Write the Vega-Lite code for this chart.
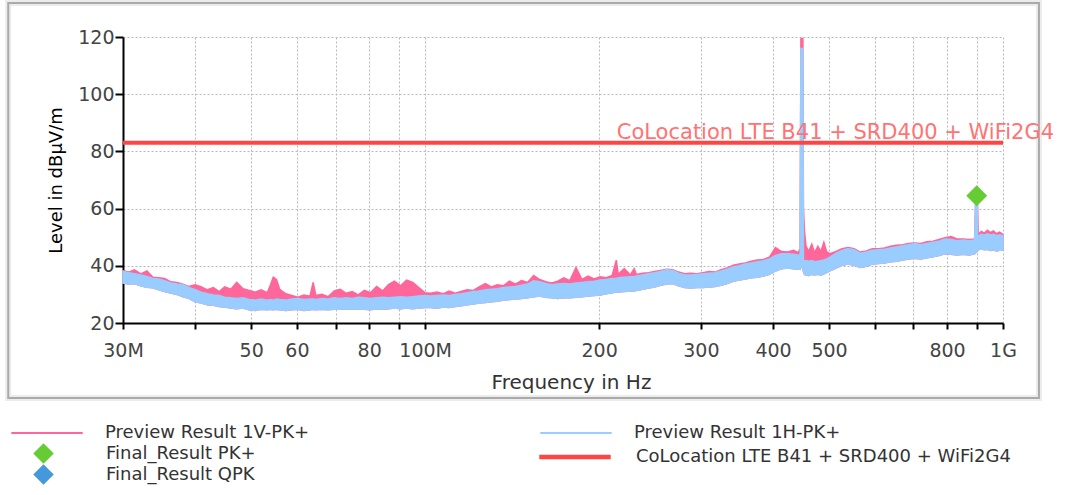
{
  "$schema": "https://vega.github.io/schema/vega-lite/v6.json",
  "autosize": {"type": "none"},
  "padding": {"left": 123, "top": 37, "right": 76, "bottom": 172},
  "width": 880,
  "height": 286,
  "background": "#ffffff",
  "data": {"values": [
    {"f":30,"blo":34.0,"bhi":38.0,"phi":38.3},
    {"f":30.7,"blo":33.6,"bhi":37.6,"phi":37.8},
    {"f":31.4,"blo":33.8,"bhi":37.2,"phi":38.6},
    {"f":32.2,"blo":33.0,"bhi":36.8,"phi":37.2},
    {"f":33,"blo":32.5,"bhi":36.3,"phi":38.2},
    {"f":33.8,"blo":32.3,"bhi":35.6,"phi":36.0},
    {"f":34.6,"blo":31.6,"bhi":35.4,"phi":35.8},
    {"f":35.4,"blo":31.0,"bhi":34.8,"phi":35.6},
    {"f":36.3,"blo":30.5,"bhi":34.0,"phi":34.4},
    {"f":37.2,"blo":30.0,"bhi":33.6,"phi":34.2},
    {"f":38.1,"blo":29.2,"bhi":33.4,"phi":33.6},
    {"f":39,"blo":28.6,"bhi":32.4,"phi":32.8},
    {"f":40,"blo":27.4,"bhi":31.6,"phi":33.4},
    {"f":41,"blo":27.0,"bhi":30.8,"phi":32.6},
    {"f":42,"blo":26.4,"bhi":30.2,"phi":31.6},
    {"f":43,"blo":26.2,"bhi":29.8,"phi":32.4},
    {"f":44,"blo":25.8,"bhi":29.6,"phi":31.0},
    {"f":45,"blo":25.6,"bhi":29.0,"phi":32.6},
    {"f":46.1,"blo":25.2,"bhi":28.8,"phi":31.8},
    {"f":47.2,"blo":25.0,"bhi":28.6,"phi":34.2},
    {"f":48.4,"blo":25.2,"bhi":28.8,"phi":32.0},
    {"f":49.6,"blo":24.6,"bhi":28.2,"phi":31.4},
    {"f":50.8,"blo":24.4,"bhi":28.0,"phi":30.8},
    {"f":52,"blo":24.8,"bhi":28.4,"phi":31.6},
    {"f":53.3,"blo":24.6,"bhi":28.0,"phi":30.6},
    {"f":54,"blo":24.8,"bhi":28.2,"phi":33.4},
    {"f":54.6,"blo":24.6,"bhi":28.0,"phi":36.0},
    {"f":55.3,"blo":24.8,"bhi":28.4,"phi":35.2},
    {"f":56,"blo":24.6,"bhi":28.2,"phi":31.8},
    {"f":57.4,"blo":24.4,"bhi":28.0,"phi":30.2},
    {"f":58.8,"blo":24.6,"bhi":28.4,"phi":29.6},
    {"f":60.2,"blo":24.8,"bhi":28.6,"phi":29.0},
    {"f":61.7,"blo":24.4,"bhi":28.2,"phi":29.8},
    {"f":63.2,"blo":24.6,"bhi":28.4,"phi":29.4},
    {"f":64,"blo":24.8,"bhi":28.4,"phi":34.2},
    {"f":64.7,"blo":24.6,"bhi":28.2,"phi":29.6},
    {"f":66.3,"blo":24.8,"bhi":28.6,"phi":30.0},
    {"f":67.9,"blo":24.6,"bhi":28.4,"phi":29.2},
    {"f":69.6,"blo":24.8,"bhi":28.8,"phi":31.2},
    {"f":71.3,"blo":24.8,"bhi":28.6,"phi":31.8},
    {"f":73,"blo":25.0,"bhi":28.8,"phi":30.4},
    {"f":74.8,"blo":24.8,"bhi":28.6,"phi":31.0},
    {"f":76.6,"blo":25.0,"bhi":29.0,"phi":29.8},
    {"f":78.5,"blo":24.8,"bhi":28.8,"phi":31.4},
    {"f":80.4,"blo":24.6,"bhi":28.6,"phi":30.6},
    {"f":82.4,"blo":25.0,"bhi":28.8,"phi":32.8},
    {"f":84.4,"blo":24.8,"bhi":29.0,"phi":31.2},
    {"f":86.4,"blo":25.0,"bhi":28.8,"phi":33.4},
    {"f":88.5,"blo":25.2,"bhi":29.0,"phi":34.6},
    {"f":90.7,"blo":25.0,"bhi":29.2,"phi":33.0},
    {"f":92.9,"blo":25.2,"bhi":29.0,"phi":35.0},
    {"f":95.2,"blo":25.0,"bhi":29.2,"phi":34.2},
    {"f":97.5,"blo":25.2,"bhi":29.4,"phi":32.4},
    {"f":99.9,"blo":25.4,"bhi":29.6,"phi":30.6},
    {"f":102.3,"blo":25.4,"bhi":29.4,"phi":30.4},
    {"f":104.8,"blo":25.2,"bhi":29.6,"phi":30.8},
    {"f":107.4,"blo":25.6,"bhi":29.8,"phi":30.2},
    {"f":110,"blo":25.4,"bhi":29.6,"phi":31.2},
    {"f":112.7,"blo":25.8,"bhi":30.0,"phi":30.4},
    {"f":115.4,"blo":26.0,"bhi":30.2,"phi":31.0},
    {"f":118.2,"blo":26.4,"bhi":30.6,"phi":31.6},
    {"f":121.1,"blo":26.6,"bhi":31.0,"phi":31.4},
    {"f":124,"blo":27.0,"bhi":31.2,"phi":32.6},
    {"f":127.1,"blo":27.2,"bhi":31.6,"phi":33.8},
    {"f":130.2,"blo":27.4,"bhi":31.8,"phi":32.6},
    {"f":133.3,"blo":27.6,"bhi":32.0,"phi":33.4},
    {"f":136.6,"blo":28.0,"bhi":32.4,"phi":33.0},
    {"f":139.9,"blo":28.2,"bhi":32.6,"phi":34.6},
    {"f":143.3,"blo":28.4,"bhi":32.8,"phi":33.6},
    {"f":146.8,"blo":28.6,"bhi":33.2,"phi":34.8},
    {"f":150.4,"blo":28.8,"bhi":33.6,"phi":34.2},
    {"f":154.1,"blo":29.2,"bhi":34.8,"phi":36.6},
    {"f":157.8,"blo":29.4,"bhi":34.4,"phi":35.2},
    {"f":161.7,"blo":29.0,"bhi":33.8,"phi":34.4},
    {"f":165.6,"blo":28.8,"bhi":33.4,"phi":34.0},
    {"f":169.6,"blo":28.6,"bhi":33.6,"phi":34.6},
    {"f":173.8,"blo":28.8,"bhi":33.8,"phi":35.8},
    {"f":178,"blo":28.8,"bhi":33.6,"phi":34.8},
    {"f":182.4,"blo":29.0,"bhi":34.0,"phi":39.4},
    {"f":186.8,"blo":29.2,"bhi":34.2,"phi":35.2},
    {"f":191.4,"blo":29.4,"bhi":34.4,"phi":36.4},
    {"f":196,"blo":29.6,"bhi":34.6,"phi":35.4},
    {"f":200.8,"blo":29.8,"bhi":35.0,"phi":36.2},
    {"f":205.7,"blo":30.2,"bhi":35.2,"phi":35.8},
    {"f":210.7,"blo":30.6,"bhi":35.6,"phi":36.6},
    {"f":214.2,"blo":30.8,"bhi":35.6,"phi":42.0},
    {"f":215.8,"blo":30.8,"bhi":35.8,"phi":37.0},
    {"f":221.1,"blo":31.0,"bhi":36.0,"phi":39.0},
    {"f":226.5,"blo":31.2,"bhi":36.2,"phi":36.8},
    {"f":230,"blo":31.2,"bhi":36.2,"phi":39.0},
    {"f":232,"blo":31.4,"bhi":36.4,"phi":37.0},
    {"f":237.7,"blo":31.8,"bhi":36.8,"phi":37.4},
    {"f":243.5,"blo":32.2,"bhi":37.2,"phi":37.6},
    {"f":249.4,"blo":32.6,"bhi":37.6,"phi":38.0},
    {"f":255.5,"blo":33.2,"bhi":38.0,"phi":38.4},
    {"f":261.7,"blo":33.6,"bhi":38.6,"phi":38.8},
    {"f":268.1,"blo":33.8,"bhi":38.4,"phi":38.6},
    {"f":274.6,"blo":33.0,"bhi":37.4,"phi":37.8},
    {"f":281.3,"blo":32.4,"bhi":36.8,"phi":37.2},
    {"f":288.2,"blo":32.2,"bhi":36.8,"phi":37.4},
    {"f":295.2,"blo":32.4,"bhi":37.0,"phi":37.2},
    {"f":302.4,"blo":32.4,"bhi":37.2,"phi":37.6},
    {"f":309.8,"blo":32.6,"bhi":37.4,"phi":38.0},
    {"f":317.3,"blo":32.8,"bhi":37.6,"phi":37.8},
    {"f":325.1,"blo":33.2,"bhi":38.2,"phi":38.6},
    {"f":333,"blo":33.8,"bhi":38.8,"phi":39.2},
    {"f":341.1,"blo":34.6,"bhi":39.6,"phi":40.2},
    {"f":349.5,"blo":35.0,"bhi":40.0,"phi":40.6},
    {"f":358,"blo":35.4,"bhi":40.6,"phi":41.0},
    {"f":366.7,"blo":35.8,"bhi":41.0,"phi":41.6},
    {"f":375.7,"blo":36.0,"bhi":41.4,"phi":42.0},
    {"f":384.8,"blo":36.4,"bhi":41.8,"phi":42.2},
    {"f":394.2,"blo":37.0,"bhi":42.4,"phi":43.0},
    {"f":403.9,"blo":38.2,"bhi":43.6,"phi":46.4},
    {"f":413.7,"blo":39.0,"bhi":44.2,"phi":45.0},
    {"f":423.8,"blo":39.2,"bhi":44.2,"phi":44.8},
    {"f":434.2,"blo":39.0,"bhi":44.0,"phi":45.4},
    {"f":442,"blo":38.8,"bhi":43.8,"phi":44.6},
    {"f":445.5,"blo":38.8,"bhi":43.6,"phi":46.0},
    {"f":447,"blo":39.5,"bhi":116.0,"phi":119.5},
    {"f":450.5,"blo":39.5,"bhi":116.0,"phi":119.5},
    {"f":451.5,"blo":38.0,"bhi":42.0,"phi":60.0},
    {"f":453.5,"blo":37.0,"bhi":41.6,"phi":52.0},
    {"f":456,"blo":36.8,"bhi":41.8,"phi":47.0},
    {"f":461,"blo":36.6,"bhi":41.6,"phi":45.0},
    {"f":466.8,"blo":37.0,"bhi":41.8,"phi":47.6},
    {"f":472,"blo":36.8,"bhi":41.4,"phi":44.6},
    {"f":478.2,"blo":37.0,"bhi":41.6,"phi":46.8},
    {"f":484,"blo":36.8,"bhi":41.8,"phi":45.0},
    {"f":489.8,"blo":37.2,"bhi":42.0,"phi":48.2},
    {"f":495,"blo":37.6,"bhi":42.4,"phi":45.0},
    {"f":501.8,"blo":38.2,"bhi":43.0,"phi":44.2},
    {"f":514,"blo":39.2,"bhi":44.4,"phi":45.0},
    {"f":526.6,"blo":40.2,"bhi":45.4,"phi":46.0},
    {"f":539.5,"blo":40.6,"bhi":46.0,"phi":46.4},
    {"f":552.6,"blo":40.2,"bhi":45.6,"phi":46.0},
    {"f":566.1,"blo":39.4,"bhi":44.4,"phi":44.8},
    {"f":580,"blo":39.8,"bhi":44.8,"phi":45.2},
    {"f":594.1,"blo":40.6,"bhi":45.4,"phi":46.0},
    {"f":608.6,"blo":40.8,"bhi":45.6,"phi":46.0},
    {"f":623.5,"blo":41.0,"bhi":45.8,"phi":46.2},
    {"f":638.7,"blo":41.4,"bhi":46.2,"phi":46.8},
    {"f":654.3,"blo":41.6,"bhi":46.6,"phi":47.2},
    {"f":670.3,"blo":42.0,"bhi":47.0,"phi":47.4},
    {"f":686.7,"blo":42.4,"bhi":47.4,"phi":47.8},
    {"f":703.4,"blo":42.6,"bhi":47.8,"phi":48.0},
    {"f":720.6,"blo":42.4,"bhi":47.4,"phi":47.8},
    {"f":738.2,"blo":42.8,"bhi":47.8,"phi":48.4},
    {"f":756.2,"blo":43.2,"bhi":48.2,"phi":48.6},
    {"f":774.7,"blo":43.6,"bhi":48.6,"phi":49.2},
    {"f":793.6,"blo":44.2,"bhi":49.4,"phi":49.8},
    {"f":813,"blo":44.0,"bhi":49.2,"phi":50.2},
    {"f":832.8,"blo":43.8,"bhi":48.8,"phi":49.4},
    {"f":853.1,"blo":44.0,"bhi":49.0,"phi":49.4},
    {"f":874,"blo":43.8,"bhi":48.8,"phi":49.2},
    {"f":893,"blo":44.2,"bhi":49.0,"phi":49.4},
    {"f":897,"blo":44.6,"bhi":64.0,"phi":64.0},
    {"f":902,"blo":45.0,"bhi":64.0,"phi":64.0},
    {"f":903.5,"blo":45.2,"bhi":50.2,"phi":62.0},
    {"f":906,"blo":45.6,"bhi":50.4,"phi":51.0},
    {"f":917.2,"blo":46.0,"bhi":51.0,"phi":52.0},
    {"f":928,"blo":45.6,"bhi":50.8,"phi":51.4},
    {"f":939.6,"blo":45.8,"bhi":51.2,"phi":52.4},
    {"f":951,"blo":45.4,"bhi":50.8,"phi":51.6},
    {"f":962.5,"blo":45.6,"bhi":51.0,"phi":52.2},
    {"f":974,"blo":45.2,"bhi":50.6,"phi":51.2},
    {"f":986,"blo":45.4,"bhi":50.8,"phi":51.8},
    {"f":1000,"blo":45.4,"bhi":50.6,"phi":51.0}
  ]},
  "layer": [
    {
      "data": {"values": [{"frame": "outer"}]},
      "mark": {"type": "rect", "fill": "transparent", "stroke": "#ececec", "strokeWidth": 6},
      "encoding": {
        "x": {"datum": 18.99, "type": "quantitative"},
        "x2": {"datum": 1154},
        "y": {"datum": 131.9, "type": "quantitative"},
        "y2": {"datum": -6.2}
      }
    },
    {
      "data": {"values": [{"frame": "inner"}]},
      "mark": {"type": "rect", "fill": "transparent", "stroke": "#aaaaaa", "strokeWidth": 2},
      "encoding": {
        "x": {"datum": 18.99, "type": "quantitative"},
        "x2": {"datum": 1154},
        "y": {"datum": 131.9, "type": "quantitative"},
        "y2": {"datum": -6.2}
      }
    },
    {
      "mark": {"type": "area", "fill": "#ff6699", "strokeWidth": 1.5, "opacity": 1},
      "encoding": {
        "x": {
          "field": "f", "type": "quantitative",
          "scale": {"type": "log", "domain": [30, 1000], "nice": false},
          "axis": {
            "values": [30,40,50,60,70,80,90,100,200,300,400,500,600,700,800,900,1000],
            "labelExpr": "datum.value == 30 ? '30M' : datum.value == 100 ? '100M' : datum.value == 1000 ? '1G' : indexof([50,60,80,200,300,400,500,800], datum.value) >= 0 ? '' + datum.value : ''",
            "grid": true,
            "tickSize": 6,
            "labelPadding": 12,
            "title": "Frequency in Hz",
            "titleFontSize": 20,
            "titleColor": "#333333",
            "titlePadding": 12,
            "titleX": 448
          }
        },
        "y": {
          "field": "blo", "type": "quantitative",
          "scale": {"domain": [20, 120], "nice": false, "zero": false},
          "axis": {
            "values": [20,30,40,50,60,70,80,90,100,110,120],
            "labelExpr": "datum.value % 20 == 0 ? '' + datum.value : ''",
            "grid": true,
            "tickSize": 8,
            "labelPadding": 1,
            "title": "Level in dBµV/m",
            "titleFontSize": 18,
            "titleColor": "#000000",
            "titlePadding": 12
          }
        },
        "y2": {"field": "phi"},
        "stroke": {
          "datum": "Preview Result 1V-PK+",
          "scale": {
            "domain": ["Preview Result 1V-PK+", "Preview Result 1H-PK+"],
            "range": ["#ff6699", "#99ccff"]
          },
          "legend": {
            "title": null,
            "orient": "none",
            "legendX": -113,
            "legendY": 359,
            "columns": 2,
            "columnPadding": 226,
            "padding": 0,
            "symbolType": "stroke",
            "symbolSize": 5100,
            "symbolStrokeWidth": 2,
            "labelOffset": 21,
            "labelFontSize": 18,
            "labelColor": "#333333",
            "labelFont": "DejaVu Sans",
            "labelLimit": 600
          }
        }
      }
    },
    {
      "mark": {"type": "area", "fill": "#99ccff", "strokeWidth": 1.5, "opacity": 1},
      "encoding": {
        "x": {"field": "f", "type": "quantitative"},
        "y": {"field": "blo", "type": "quantitative"},
        "y2": {"field": "bhi"},
        "stroke": {"datum": "Preview Result 1H-PK+"}
      }
    },
    {
      "data": {"values": [{"f": 30, "lim": 83}, {"f": 1000, "lim": 83}]},
      "mark": {"type": "line", "strokeWidth": 4},
      "encoding": {
        "x": {"field": "f", "type": "quantitative"},
        "y": {"field": "lim", "type": "quantitative"},
        "color": {
          "datum": "CoLocation LTE B41 + SRD400 + WiFi2G4",
          "scale": {"domain": ["CoLocation LTE B41 + SRD400 + WiFi2G4"], "range": ["#ff4444"]},
          "legend": {
            "title": null,
            "orient": "none",
            "legendX": 414,
            "legendY": 382,
            "padding": 0,
            "symbolType": "stroke",
            "symbolSize": 5100,
            "symbolStrokeWidth": 4.5,
            "labelOffset": 23,
            "labelFontSize": 18,
            "labelColor": "#333333",
            "labelFont": "DejaVu Sans",
            "labelLimit": 600
          }
        }
      }
    },
    {
      "data": {"values": [{"f": 214.6, "lim": 83, "label": "CoLocation LTE B41 + SRD400 + WiFi2G4"}]},
      "mark": {"type": "text", "align": "left", "baseline": "alphabetic", "dy": -4, "fontSize": 21, "font": "DejaVu Sans", "color": "#ff7373"},
      "encoding": {
        "x": {"field": "f", "type": "quantitative"},
        "y": {"field": "lim", "type": "quantitative"},
        "text": {"field": "label"}
      }
    },
    {
      "data": {"values": [{"f": 900.6, "level": 64.5}]},
      "mark": {"type": "point", "shape": "diamond", "filled": true, "size": 440, "opacity": 1, "strokeWidth": 0},
      "encoding": {
        "x": {"field": "f", "type": "quantitative"},
        "y": {"field": "level", "type": "quantitative"},
        "fill": {
          "datum": "Final_Result PK+",
          "scale": {"domain": ["Final_Result PK+", "Final_Result QPK"], "range": ["#66cc33", "#4499dd"]},
          "legend": {
            "title": null,
            "orient": "none",
            "legendX": -90,
            "legendY": 406,
            "columns": 1,
            "padding": 0,
            "rowPadding": -3,
            "symbolType": "diamond",
            "symbolSize": 420,
            "symbolStrokeWidth": 0,
            "labelOffset": 52,
            "labelFontSize": 18,
            "labelColor": "#333333",
            "labelFont": "DejaVu Sans",
            "labelLimit": 600
          }
        }
      }
    }
  ],
  "config": {
    "font": "DejaVu Sans",
    "view": {"stroke": null},
    "axis": {
      "labelFont": "DejaVu Sans",
      "titleFont": "DejaVu Sans",
      "titleFontWeight": "normal",
      "labelFontSize": 19,
      "labelColor": "#444444",
      "labelFlush": false,
      "labelOverlap": false,
      "labelBound": false,
      "gridColor": "#b8b8b8",
      "gridDash": [2, 2],
      "gridWidth": 1,
      "domainColor": "#000000",
      "domainWidth": 2,
      "tickColor": "#000000",
      "tickWidth": 2
    }
  }
}
